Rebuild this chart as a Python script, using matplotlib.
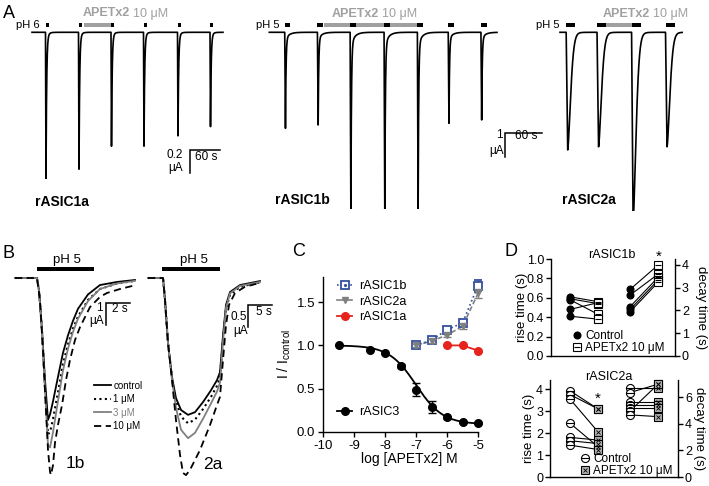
import numpy as np
import matplotlib.pyplot as plt
from matplotlib.lines import Line2D
from matplotlib.ticker import FormatStrFormatter

plt.rcParams['font.family'] = ['Liberation Sans', 'DejaVu Sans']
plt.rcParams['axes.unicode_minus'] = False
plt.rcParams['font.size'] = 9

BLUE = '#34509e'
RED = '#e5251d'
GRAY = '#808080'
TOXIN = '#a0a0a0'

# ---------------- A: pulse onsets (s), peak currents (uA) ----------------
a1_onsets = [27, 93, 158, 223, 291, 356]
a1_peaks = [1.27, 1.19, 0.99, 0.99, 0.90, 0.82]
a1_pulse = 6.7
a1_toxin = (103, 158)
a1_end = 382

a2_onsets = [25, 78, 131, 186, 240, 290, 343]
a2_peaks = [4.0, 3.86, 7.6, 7.7, 7.6, 3.79, 3.65]
a2_pulse = 9.2
a2_toxin = (88, 240)
a2_end = 369

a3_onsets = [10, 60, 116, 171]
a3_peaks = [4.9, 4.77, 7.9, 4.77]
a3_pulse = 15
a3_toxin = (75, 116)
a3_end = 198

# kinetics: rise, tau, decay exponent, slow fraction, slow tau
a1_kin = (1.0, 1.3, 1.0, 0.04, 4.0)
a2_kin = (1.2, 0.9, 1.0, 0.07, 6.0)
a3_kin = (2.5, 6.5, 1.6, 0.06, 6.0)

# ---------------- B: current traces (s, uA) ----------------
b_t1 = [0, 1.83, 2.0, 2.25, 2.5, 2.75, 2.92, 3.17, 3.58, 4.0, 4.42, 4.83, 5.25, 6.08, 7.08, 8.5, 10.0]
b1_ctrl = [0, 0, -0.55, -2.36, -4.64, -6.45, -6.2, -5.6, -4.5, -3.4, -2.6, -1.95, -1.4, -0.75, -0.32, -0.18, -0.09]
b1_1uM = [0, 0, -0.55, -2.4, -5.0, -7.1, -7.0, -6.4, -5.2, -3.9, -3.0, -2.3, -1.75, -1.0, -0.5, -0.25, -0.13]
b1_3uM = [0, 0, -0.55, -2.4, -5.1, -7.6, -7.7, -7.0, -5.6, -4.2, -3.2, -2.45, -1.85, -1.05, -0.5, -0.25, -0.13]
b_t1_10 = [0, 1.83, 2.08, 2.33, 2.58, 2.75, 2.92, 3.0, 3.17, 3.33, 3.58, 3.92, 4.25, 4.58, 5.0, 5.42,
           6.25, 7.08, 7.67, 8.75, 10.08]
b1_10uM = [0, 0, -1.0, -3.27, -6.0, -7.82, -8.82, -8.95, -8.5, -7.5, -6.68, -5.77, -4.64, -3.73, -2.82,
           -2.23, -1.32, -0.86, -0.68, -0.5, -0.32]
b1_ph = (1.83, 6.58)

b_t2 = [0, 3.13, 3.54, 4.17, 5.0, 5.83, 6.88, 8.33, 9.79, 11.46, 13.13, 14.38, 15.0, 15.63, 16.25, 17.08,
        19.17, 23.33]
b2_ctrl = [0, 0, -0.5, -1.48, -2.25, -2.73, -3.0, -3.11, -3.05, -2.82, -2.55, -2.32, -2.14, -1.30, -0.61,
           -0.32, -0.16, -0.07]
b2_1uM = [0, 0, -0.5, -1.48, -2.27, -2.8, -3.15, -3.3, -3.22, -2.98, -2.7, -2.45, -2.25, -1.4, -0.7,
          -0.38, -0.2, -0.1]
b2_3uM = [0, 0, -0.5, -1.48, -2.3, -2.95, -3.45, -3.64, -3.52, -3.2, -2.85, -2.58, -2.38, -1.45, -0.68,
          -0.35, -0.18, -0.09]
b_t2_10 = [0, 3.13, 3.54, 4.17, 5.0, 5.83, 6.67, 7.29, 7.92, 8.75, 10.83, 12.92, 14.17, 15.0, 15.63,
           16.25, 16.88, 18.13, 20.21, 23.33]
b2_10uM = [0, 0, -0.5, -1.48, -2.32, -3.23, -4.02, -4.43, -4.48, -4.36, -3.91, -3.34, -2.95, -2.70,
           -1.86, -1.07, -0.61, -0.34, -0.20, -0.11]
b2_ph = (2.92, 15.0)
b_labels = ['control', '1 \u03bcM', '3 \u03bcM', '10 \u03bcM']

# ---------------- C: concentration-response ----------------
c_log3 = [-9.5, -8.5, -8, -7.5, -7, -6.5, -6, -5.5, -5]
c_asic3 = [1.0, 0.95, 0.91, 0.76, 0.49, 0.29, 0.17, 0.11, 0.10]
c_asic3_err = [0, 0, 0, 0.02, 0.077, 0.067, 0.015, 0.01, 0.01]
c_log_up = [-7, -6.5, -6, -5.5, -5]
c_asic1b = [1.0, 1.06, 1.18, 1.26, 1.69]
c_asic1b_err = [0.02, 0.02, 0.03, 0.03, 0.06]
c_asic2a = [1.0, 1.05, 1.12, 1.22, 1.60]
c_asic2a_err = [0.02, 0.02, 0.02, 0.03, 0.05]
c_log1a = [-6, -5.5, -5]
c_asic1a = [1.0, 1.0, 0.94]
HILL_TOP, HILL_BOTTOM, LOG_IC50, HILL_N = 1.0, 0.09, -7.0, 1.0

# ---------------- D: rise / decay times (s) ----------------
d1_rise_ctrl = [0.61, 0.59, 0.58, 0.48, 0.41]
d1_rise_tox = [0.56, 0.54, 0.43, 0.55, 0.38]
d1_decay_ctrl = [2.93, 2.68, 2.17, 2.05, 1.95]
d1_decay_tox = [4.00, 3.60, 3.46, 3.34, 3.24]

d2_rise_ctrl = [3.92, 3.75, 3.55, 2.45, 1.80, 1.65, 1.45]
d2_rise_tox = [3.10, 3.10, 2.06, 1.38, 1.68, 1.52, 1.25]
d2_decay_ctrl = [6.67, 6.34, 5.66, 5.41, 5.16, 4.96, 4.66]
d2_decay_tox = [6.67, 6.97, 5.66, 5.41, 5.16, 6.97, 4.53]

W, H = 709, 486
fig = plt.figure(figsize=(W / 100, H / 100), dpi=100)


def px_axes(l, t, r, b):
    return fig.add_axes([l / W, 1 - b / H, (r - l) / W, (b - t) / H])


def ftext(x, y, s, **kw):
    kw.setdefault('ha', 'center')
    kw.setdefault('va', 'center')
    return fig.text(x / W, 1 - y / H, s, **kw)


def trace_axes(l, t, r, b, x0, y0, sx, sy):
    # (x0, y0): pixel of t=0 / zero current; sx, sy: pixels per unit
    ax = px_axes(l, t, r, b)
    ax.set_xlim((l - x0) / sx, (r - x0) / sx)
    ax.set_ylim((y0 - b) / sy, (y0 - t) / sy)
    ax.set_axis_off()
    return ax


def current(t, onsets, peaks, rise, tau, p, slow, tau_slow):
    i = np.zeros_like(t)
    for t0, a in zip(onsets, peaks):
        d = t - t0
        up = (d >= 0) & (d < rise)
        i[up] -= a * d[up] / rise
        dn = d >= rise
        s = d[dn] - rise
        i[dn] -= a * ((1 - slow) * np.exp(-(s / tau) ** p) + slow * np.exp(-s / tau_slow))
    return i


def scale_bar(ax, x, y, dx, dy):
    ax.plot([x + dx, x, x], [y, y, y - dy], color='k', lw=1.1, solid_joinstyle='miter')


def a_panel(box, origin, sx, sy, onsets, peaks, pulse, toxin, end, kin):
    ax = trace_axes(*box, *origin, sx, sy)
    t = np.arange(0, end, 0.05)
    ax.plot(t, current(t, onsets, peaks, *kin), color='k', lw=1.2)
    yb, hb = 7.3 / sy, 4.5 / sy
    ax.broken_barh([(toxin[0], toxin[1] - toxin[0])], (yb - hb / 2, hb), color=TOXIN, lw=0)
    ax.broken_barh([(o, pulse) for o in onsets], (yb - hb / 2, hb), color='k', lw=0)
    return ax


def toxin_label(x, y):
    ftext(x, y, 'APETx2', ha='left', color=TOXIN, fontweight='bold', fontsize=9)
    ftext(x + 50, y, '10 \u03bcM', ha='left', color=TOXIN, fontsize=9)


# ---------------- A ----------------
a1 = a_panel((15, 5, 232, 192), (32, 32.3), 0.5, 115, a1_onsets, a1_peaks, a1_pulse, a1_toxin, a1_end, a1_kin)
scale_bar(a1, 316, -1.023, 60, 0.2)
a2 = a_panel((250, 5, 555, 209), (269.3, 32.3), 0.617, 24, a2_onsets, a2_peaks, a2_pulse, a2_toxin, a2_end,
             a2_kin)
scale_bar(a2, 382, -4.196, 60, 1.0)
a3 = a_panel((530, 5, 705, 211), (560, 32.3), 0.617, 24, a3_onsets, a3_peaks, a3_pulse, a3_toxin, a3_end,
             a3_kin)

ftext(8.5, 13.5, 'A', fontsize=13)
ftext(40, 25, 'pH 6', ha='right', fontsize=8)
ftext(279, 25, 'pH 5', ha='right', fontsize=8)
ftext(559, 25, 'pH 5', ha='right', fontsize=8)
toxin_label(83, 13.5)
toxin_label(332, 14)
toxin_label(603, 14)
ftext(183, 155, '0.2', ha='right', fontsize=8.5)
ftext(183, 168, '\u03bcA', ha='right', fontsize=8.5)
ftext(195, 157.5, '60 s', ha='left', fontsize=8.5)
ftext(503, 134.5, '1', ha='right', fontsize=8.5)
ftext(504, 151, '\u03bcA', ha='right', fontsize=8.5)
ftext(515, 136, '60 s', ha='left', fontsize=8.5)
ftext(35, 202, 'rASIC1a', ha='left', fontweight='bold', fontsize=10)
ftext(275, 200, 'rASIC1b', ha='left', fontweight='bold', fontsize=10)
ftext(562, 200, 'rASIC2a', ha='left', fontweight='bold', fontsize=10)

# ---------------- B ----------------
styles = [dict(color='k', ls='-', lw=1.3), dict(color='k', ls=(0, (1, 1.6)), lw=1.5),
          dict(color=GRAY, ls='-', lw=1.3), dict(color='k', ls=(0, (4, 2.5)), lw=1.3)]
b1 = trace_axes(8, 250, 140, 486, 15, 278, 12, 22)
b1_lines = []
for tt, ii, st in zip([b_t1, b_t1, b_t1, b_t1_10], [b1_ctrl, b1_1uM, b1_3uM, b1_10uM], styles):
    b1_lines += b1.plot(tt, ii, **st)
b1.broken_barh([(b1_ph[0], b1_ph[1] - b1_ph[0])], (0.41 - 0.07, 0.14), color='k', lw=0)
scale_bar(b1, 7.58, -1.136, 2, 1)

b2 = trace_axes(140, 250, 290, 486, 148, 278, 4.8, 44)
for tt, ii, st in zip([b_t2, b_t2, b_t2, b_t2_10], [b2_ctrl, b2_1uM, b2_3uM, b2_10uM], styles):
    b2.plot(tt, ii, **st)
b2.broken_barh([(b2_ph[0], b2_ph[1] - b2_ph[0])], (0.205 - 0.035, 0.07), color='k', lw=0)
scale_bar(b2, 20.9, -0.614, 5, 0.5)

ftext(9, 253, 'B', fontsize=13)
ftext(67, 260, 'pH 5', fontsize=9.5)
ftext(194, 260, 'pH 5', fontsize=9.5)
ftext(103, 308, '1', ha='right', fontsize=8.5)
ftext(104, 321, '\u03bcA', ha='right', fontsize=8.5)
ftext(112, 308.5, '2 s', ha='left', fontsize=8.5)
ftext(247, 317, '0.5', ha='right', fontsize=8.5)
ftext(248, 331, '\u03bcA', ha='right', fontsize=8.5)
ftext(256, 312, '5 s', ha='left', fontsize=8.5)
ftext(75, 463.5, '1b', fontsize=12.5)
ftext(213, 464, '2a', fontsize=12.5)
bleg = fig.legend(b1_lines, b_labels, loc='center left', bbox_to_anchor=(94 / W, 1 - 406 / H),
                  frameon=False, fontsize=7, handlelength=1.8, handletextpad=0.2, labelspacing=0.35,
                  borderpad=0, borderaxespad=0)
bleg.get_texts()[2].set_color(GRAY)

# ---------------- C ----------------
axC = px_axes(323, 277, 478, 432)
xs = np.linspace(c_log3[0], c_log3[-1], 200)
axC.plot(xs, HILL_BOTTOM + (HILL_TOP - HILL_BOTTOM) / (1 + 10 ** ((xs - LOG_IC50) * HILL_N)), color='k', lw=1.3)
eb3 = axC.errorbar(c_log3, c_asic3, yerr=c_asic3_err, fmt='o', color='k', ms=5.5, capsize=3, elinewidth=1,
                   clip_on=False, zorder=4)
axC.plot(c_log_up, c_asic2a, color=GRAY, ls=(0, (3, 1.5)), lw=1.2)
axC.plot(c_log_up, c_asic1b, color=BLUE, ls=':', lw=1.2)
eb1b = axC.errorbar(c_log_up, c_asic1b, yerr=c_asic1b_err, fmt='s', color=BLUE, mfc='white', ms=6, mew=1.3,
                    capsize=3, elinewidth=1, clip_on=False, zorder=4)
eb2a = axC.errorbar(c_log_up, c_asic2a, yerr=c_asic2a_err, fmt='v', color=GRAY, ms=4.5, capsize=3,
                    elinewidth=1, clip_on=False, zorder=5)
axC.plot(c_log1a, c_asic1a, color=RED, lw=1.3, marker='o', ms=5.5, clip_on=False, zorder=4)
for eb in (eb3, eb1b, eb2a):
    for art in eb.lines[1] + eb.lines[2]:
        art.set_clip_on(False)
axC.set_xlim(-10, -5)
axC.set_ylim(0, 1.79)
axC.set_xticks(range(-10, -4))
axC.set_yticks([0, 0.5, 1.0, 1.5])
axC.yaxis.set_major_formatter(FormatStrFormatter('%.1f'))
axC.spines[['top', 'right']].set_visible(False)
for s in ('left', 'bottom'):
    axC.spines[s].set_linewidth(1.0)
axC.tick_params(direction='out', length=3.5, width=1, pad=2, labelsize=9.5)
axC.set_ylabel('I / I$_{\\mathregular{control}}$', fontsize=10)
axC.yaxis.set_label_coords(-0.194, 0.5)
axC.set_xlabel('log [APETx2] M', fontsize=10)
axC.xaxis.set_label_coords(0.555, -0.13)

h1b = (Line2D([], [], color=BLUE, ls=':', lw=1.2, marker='s', mfc='white', mec=BLUE, ms=6, mew=1.3),
       Line2D([], [], ls='none', marker='.', color=BLUE, ms=2.5))
h2a = Line2D([], [], color=GRAY, lw=1.2, marker='v', ms=4.5)
h1a = Line2D([], [], color=RED, lw=1.3, marker='o', ms=5.5)
h3 = Line2D([], [], color='k', lw=1.3, marker='o', ms=5.5)
leg_kw = dict(loc='center left', bbox_transform=fig.transFigure, frameon=False, fontsize=9, handlelength=1.2,
              handletextpad=0.55, labelspacing=0.3, borderpad=0, borderaxespad=0)
legC = axC.legend([h1b, h2a, h1a], ['rASIC1b', 'rASIC2a', 'rASIC1a'],
                  bbox_to_anchor=(337 / W, 1 - 301.7 / H), **leg_kw)
axC.add_artist(legC)
axC.legend([h3], ['rASIC3'], bbox_to_anchor=(337 / W, 1 - 412.3 / H), **leg_kw)
ftext(298.5, 251.5, 'C', fontsize=13)

# ---------------- D ----------------
X_RISE = (0, 1)
X_DECAY = (2.15, 3.15)


def d_axes(box, xlim, left_lim, left_ticks, right_lim, right_ticks, lab_x):
    ax = px_axes(*box)
    ax2 = ax.twinx()
    ax.set_xlim(*xlim)
    ax.set_ylim(*left_lim)
    ax.set_yticks(left_ticks)
    ax2.set_ylim(*right_lim)
    ax2.set_yticks(right_ticks)
    ax.set_xticks([])
    ax.spines[['top', 'right']].set_visible(False)
    ax2.spines[['top', 'left', 'bottom']].set_visible(False)
    for a in (ax, ax2):
        for s in a.spines.values():
            s.set_linewidth(1.0)
        a.tick_params(direction='out', length=3.5, width=1, pad=1.5, labelsize=9)
    ax.set_ylabel('rise time (s)', fontsize=9.5)
    ax.yaxis.set_label_coords(lab_x[0], 0.5)
    ax2.set_ylabel('decay time (s)', fontsize=9.5, rotation=270, va='bottom')
    ax2.yaxis.set_label_coords(lab_x[1], 0.5)
    return ax, ax2


def pairs(ax, xpos, ctrl, tox, ctrl_marks, tox_marks):
    n = len(ctrl)
    ax.plot(np.array([[xpos[0]] * n, [xpos[1]] * n]), np.array([ctrl, tox]), color='k', lw=0.8, zorder=2)
    for spec in ctrl_marks:
        ax.plot([xpos[0]] * n, ctrl, ls='none', zorder=3, clip_on=False, **spec)
    for spec in tox_marks:
        ax.plot([xpos[1]] * n, tox, ls='none', zorder=3, clip_on=False, **spec)


top_ctrl = [dict(marker='o', ms=4.8, mfc='k', mec='k')]
top_tox = [dict(marker='s', ms=5.5, mfc='white', mec='k', mew=0.8), dict(marker='_', ms=5, mec='k', mew=0.8)]
bot_ctrl = [dict(marker='o', ms=5.8, mfc='white', mec='k', mew=0.8), dict(marker='_', ms=5.5, mec='k', mew=0.8)]
bot_tox = [dict(marker='s', ms=5.5, mfc='0.7', mec='k', mew=0.8), dict(marker='x', ms=3.5, mec='k', mew=0.6)]

d1, d1r = d_axes((551, 259, 675, 356), (-0.68, 3.75), (0, 1.0), np.arange(0, 1.01, 0.2), (0, 4.26),
                 range(0, 5), (-0.185, 1.161))
d1.yaxis.set_major_formatter(FormatStrFormatter('%.1f'))
pairs(d1, X_RISE, d1_rise_ctrl, d1_rise_tox, top_ctrl, top_tox)
pairs(d1r, X_DECAY, d1_decay_ctrl, d1_decay_tox, top_ctrl, top_tox)

d2, d2r = d_axes((550, 380, 678, 477), (-0.71, 3.86), (0, 4.41), range(0, 5), (0, 7.28), range(0, 7, 2),
                 (-0.117, 1.117))
pairs(d2, X_RISE, d2_rise_ctrl, d2_rise_tox, bot_ctrl, bot_tox)
pairs(d2r, X_DECAY, d2_decay_ctrl, d2_decay_tox, bot_ctrl, bot_tox)

dleg_kw = dict(loc='center left', bbox_transform=fig.transFigure, frameon=False, fontsize=8.5, handlelength=0.8,
               handletextpad=0.3, labelspacing=-0.05, borderpad=0, borderaxespad=0)
d1r.legend([tuple(Line2D([], [], ls='none', **s) for s in top_ctrl),
            tuple(Line2D([], [], ls='none', **s) for s in top_tox)],
           ['Control', 'APETx2 10 \u03bcM'], bbox_to_anchor=(572 / W, 1 - 342 / H), **dleg_kw)
d2r.legend([tuple(Line2D([], [], ls='none', **s) for s in bot_ctrl),
            tuple(Line2D([], [], ls='none', **s) for s in bot_tox)],
           ['Control', 'APETx2 10 \u03bcM'], bbox_to_anchor=(580 / W, 1 - 465 / H), **dleg_kw)

ftext(511.5, 251, 'D', fontsize=13)
ftext(612, 255, 'rASIC1b', fontsize=9)
ftext(609, 376.5, 'rASIC2a', fontsize=9)
ftext(659, 257, '*', fontsize=11)
ftext(598, 399, '*', fontsize=11)

fig.savefig('out.png', dpi=100)
